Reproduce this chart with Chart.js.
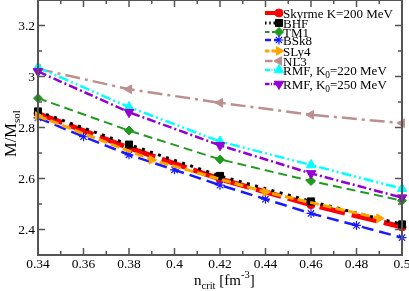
<!DOCTYPE html>
<html><head><meta charset="utf-8">
<script src="https://cdn.jsdelivr.net/npm/chart.js@4.4.1/dist/chart.umd.min.js"></script>
<style>html,body{margin:0;padding:0;background:#fff;overflow:hidden}</style>
</head><body>
<canvas id="c" width="409" height="291" style="width:409px;height:291px;display:block"></canvas>
<script>
// ---- data ----
const xMain   = [0.34, 0.38, 0.42, 0.46, 0.50];
const skyrme  = [2.855, 2.720, 2.598, 2.497, 2.410];
const bhf     = [2.863, 2.733, 2.610, 2.510, 2.420];
const tm1     = [2.915, 2.788, 2.675, 2.590, 2.513];
const xBSk8   = [0.34, 0.36, 0.38, 0.40, 0.42, 0.44, 0.46, 0.48, 0.50];
const bsk8    = [2.838, 2.764, 2.693, 2.634, 2.574, 2.519, 2.463, 2.416, 2.368];
const xSLy4   = [0.34, 0.39, 0.44, 0.49];
const sly4    = [2.845, 2.673, 2.547, 2.444];
const nl3     = [3.030, 2.950, 2.897, 2.850, 2.817];
const rmf220  = [3.035, 2.880, 2.745, 2.653, 2.560];
const rmf250  = [3.020, 2.860, 2.730, 2.620, 2.525];

const legendLabels = ['Skyrme K=200 MeV','BHF','TM1','BSk8','SLy4','NL3','RMF, K_0=220 MeV','RMF, K_0=250 MeV'];
const xTickValues = [0.34,0.36,0.38,0.40,0.42,0.44,0.46,0.48,0.50];
const xTickLabels = ['0.34','0.36','0.38','0.4','0.42','0.44','0.46','0.48','0.5'];
const xMinorValues = [0.35,0.37,0.39,0.41,0.43,0.45,0.47,0.49];
const yTickValues = [2.4,2.6,2.8,3.0,3.2];
const yTickLabels = ['2.4','2.6','2.8','3','3.2'];
const yMinorValues = [2.5,2.7,2.9,3.1];

function pts(xs, ys){ return xs.map((x,i)=>({x:x, y:ys[i]})); }
function ds(label, xs, ys, color, o){
  return Object.assign({label:label, data:pts(xs,ys), borderColor:color, backgroundColor:color,
    pointBackgroundColor:color, pointBorderColor:color, showLine:true, fill:false, tension:0,
    clip:false, pointBorderWidth:1, borderCapStyle:'butt'}, o);
}
const datasets = [
  ds(legendLabels[0], xMain, skyrme, '#ff0000', {borderWidth:5, borderDash:[26,7], pointStyle:'circle', pointRadius:4, order:8}),
  ds(legendLabels[1], xMain, bhf, '#000000', {borderWidth:3, borderDash:[3,5.5], pointStyle:'rect', pointRadius:5, order:7}),
  ds(legendLabels[2], xMain, tm1, '#1f9a1f', {borderWidth:2, borderDash:[9,5], pointStyle:'rectRot', pointRadius:4.5, order:6}),
  ds(legendLabels[3], xBSk8, bsk8, '#1a1aff', {borderWidth:2.5, borderDash:[12,6], pointStyle:'star', pointRadius:4.5, pointBorderWidth:1.2, order:5}),
  ds(legendLabels[4], xSLy4, sly4, '#ffa500', {borderWidth:3, borderDash:[9,4], pointStyle:'triangle', pointRotation:90, pointRadius:5, order:4}),
  ds(legendLabels[5], xMain, nl3, '#bc8f8f', {borderWidth:2.5, borderDash:[15,5,3,5], pointStyle:'triangle', pointRotation:270, pointRadius:5, order:3}),
  ds(legendLabels[6], xMain, rmf220, '#00ffff', {borderWidth:2.5, borderDash:[10,3,2,3,2,3], pointStyle:'triangle', pointRadius:5.5, order:2}),
  ds(legendLabels[7], xMain, rmf250, '#9400d3', {borderWidth:2.5, borderDash:[9,3,2,3], pointStyle:'triangle', pointRotation:180, pointRadius:5.5, order:1})
];

const FONT = '"Liberation Serif","DejaVu Serif",serif';
const AXC = '#555555';

function drawParts(ctx, parts, x, y){
  parts.forEach(p=>{
    ctx.font = p.size + 'px ' + FONT;
    ctx.fillText(p.t, x, y + (p.dy||0));
    x += ctx.measureText(p.t).width;
  });
  return x;
}
function labelParts(s, size){
  const m = s.split('_');
  if (m.length === 1) return [{t:s, size:size}];
  return [{t:m[0], size:size}, {t:m[1].charAt(0), size:size*0.72, dy:3}, {t:m[1].slice(1), size:size}];
}

const deco = {
  id:'deco',
  afterDatasetsDraw(chart){
    const ctx = chart.ctx, a = chart.chartArea;
    const xs = chart.scales.x, ys = chart.scales.y;
    ctx.save();
    ctx.strokeStyle = AXC; ctx.lineWidth = 2; ctx.setLineDash([]);
    ctx.strokeRect(a.left, a.top, a.right - a.left, a.bottom - a.top);
    ctx.lineWidth = 1.5;
    ctx.beginPath();
    const tk = (v, len, horiz) => {
      if (horiz){ const p = xs.getPixelForValue(v);
        ctx.moveTo(p, a.bottom); ctx.lineTo(p, a.bottom - len);
        ctx.moveTo(p, a.top); ctx.lineTo(p, a.top + len);
      } else { const p = ys.getPixelForValue(v);
        ctx.moveTo(a.left, p); ctx.lineTo(a.left + len, p);
        ctx.moveTo(a.right, p); ctx.lineTo(a.right - len, p);
      }
    };
    xTickValues.forEach(v=>tk(v,7,true)); xMinorValues.forEach(v=>tk(v,4,true));
    yTickValues.forEach(v=>tk(v,7,false)); yMinorValues.forEach(v=>tk(v,4,false));
    ctx.stroke();
    ctx.fillStyle = '#000';
    ctx.font = '13.5px ' + FONT;
    ctx.textAlign = 'center'; ctx.textBaseline = 'alphabetic';
    xTickValues.forEach((v,i)=> ctx.fillText(xTickLabels[i], xs.getPixelForValue(v), a.bottom + 13));
    ctx.textAlign = 'right'; ctx.textBaseline = 'middle';
    yTickValues.forEach((v,i)=> ctx.fillText(yTickLabels[i], a.left - 3, ys.getPixelForValue(v) + 1));
    ctx.textAlign = 'left'; ctx.textBaseline = 'alphabetic';
    drawParts(ctx, [{t:'n',size:15},{t:'crit',size:10.5,dy:4},{t:' [fm',size:15},{t:'-3',size:10.5,dy:-7},{t:']',size:15}], 194, 285);
    ctx.save();
    ctx.translate(16, 157); ctx.rotate(-Math.PI/2);
    drawParts(ctx, [{t:'M/M',size:16.5},{t:'sol',size:11,dy:4}], 0, 0);
    ctx.restore();
    const rows = [13,23,32,40,51,61,70,84];
    chart.data.datasets.forEach((d,i)=>{
      const y = rows[i];
      ctx.save();
      ctx.strokeStyle = d.borderColor; ctx.lineWidth = Math.min(d.borderWidth, 4);
      ctx.setLineDash(d.borderDash ? d.borderDash.map(v=>v*0.5) : []);
      ctx.beginPath(); ctx.moveTo(265, y); ctx.lineTo(279, y); ctx.stroke();
      ctx.setLineDash([]);
      ctx.fillStyle = d.pointBackgroundColor; ctx.strokeStyle = d.pointBorderColor;
      ctx.lineWidth = d.pointBorderWidth || 1;
      if (Chart.helpers && Chart.helpers.drawPoint){
        Chart.helpers.drawPoint(ctx, {pointStyle:d.pointStyle, rotation:d.pointRotation||0, radius:d.pointRadius, borderWidth:d.pointBorderWidth||1}, 279, y);
      }
      ctx.restore();
      ctx.fillStyle = '#000'; ctx.textAlign='left'; ctx.textBaseline='alphabetic';
      drawParts(ctx, labelParts(legendLabels[i], 13), 283, y + 4.5);
    });
    ctx.restore();
  }
};

new Chart(document.getElementById('c'), {
  type:'scatter',
  data:{datasets:datasets},
  options:{
    responsive:false, animation:false, devicePixelRatio:1,
    layout:{autoPadding:false, padding:{top:0,right:7,left:0,bottom:0}},
    plugins:{legend:{display:false}, tooltip:{enabled:false}},
    scales:{
      x:{type:'linear', min:0.34, max:0.5, grid:{display:false}, border:{display:false}, ticks:{display:false},
         afterFit(s){ s.height = 36; }},
      y:{type:'linear', min:2.3, max:3.3, grid:{display:false}, border:{display:false}, ticks:{display:false},
         afterFit(s){ s.width = 38; }}
    }
  },
  plugins:[deco]
});
</script>
</body></html>
